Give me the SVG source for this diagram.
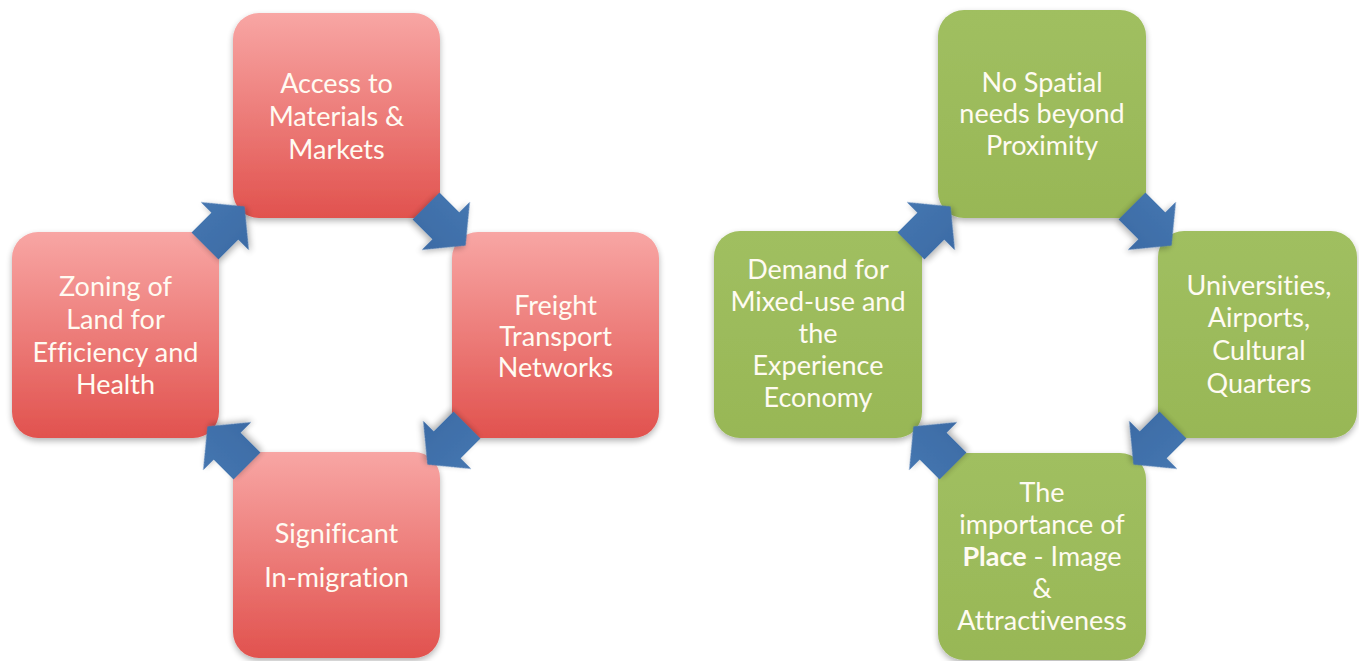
<svg xmlns="http://www.w3.org/2000/svg" width="1359" height="661" viewBox="0 0 1359 661">
  <defs>
    <linearGradient id="gRed" x1="0" y1="0" x2="0" y2="1">
      <stop offset="0" stop-color="#F8A6A4"/>
      <stop offset="1" stop-color="#E1524E"/>
    </linearGradient>
    <linearGradient id="gGreen" x1="0" y1="0" x2="0" y2="1">
      <stop offset="0" stop-color="#A0BF60"/>
      <stop offset="1" stop-color="#98B756"/>
    </linearGradient>
    <linearGradient id="gBlue" x1="0" y1="0" x2="0" y2="1">
      <stop offset="0" stop-color="#4576B0"/>
      <stop offset="1" stop-color="#3C6BA5"/>
    </linearGradient>
    <filter id="shadow" x="-10%" y="-10%" width="120%" height="125%">
      <feGaussianBlur in="SourceAlpha" stdDeviation="3"/>
      <feOffset dx="0" dy="3" result="b"/>
      <feComponentTransfer><feFuncA type="linear" slope="0.3"/></feComponentTransfer>
      <feMerge><feMergeNode/><feMergeNode in="SourceGraphic"/></feMerge>
    </filter>
    <path id="arrow" d="M0,-19 H28 V-34 L56,0 L28,34 V19 H0 Z"/>
  </defs>
  <style>
    .red { fill: url(#gRed); filter: url(#shadow); }
    .green { fill: url(#gGreen); filter: url(#shadow); }
    .arr { fill: url(#gBlue); filter: url(#shadow); }
    text { font-family: Lato, "Liberation Sans", sans-serif; font-size: 27px; fill: #FFFBF2; text-anchor: middle; font-variant-ligatures: none; }
    .b { font-weight: bold; }
  </style>

  <rect width="1359" height="661" fill="#FFFFFF"/>

  <!-- Left cycle -->
  <g id="n-access">
    <rect class="red" x="233" y="13" width="207" height="205" rx="26"/>
    <text x="336.5" y="93">Access to</text>
    <text x="336.5" y="126">Materials &amp;</text>
    <text x="336.5" y="159">Markets</text>
  </g>
  <g id="n-freight">
    <rect class="red" x="452" y="232" width="207" height="206" rx="26"/>
    <text x="555.5" y="315">Freight</text>
    <text x="555.5" y="346">Transport</text>
    <text x="555.5" y="377">Networks</text>
  </g>
  <g id="n-migration">
    <rect class="red" x="233" y="452" width="207" height="206" rx="26"/>
    <text x="336.5" y="543">Significant</text>
    <text x="336.5" y="587">In-migration</text>
  </g>
  <g id="n-zoning">
    <rect class="red" x="12" y="232" width="207" height="206" rx="26"/>
    <text x="115.5" y="296">Zoning of</text>
    <text x="115.5" y="329">Land for</text>
    <text x="115.5" y="362">Efficiency and</text>
    <text x="115.5" y="394">Health</text>
  </g>

  <!-- Right cycle -->
  <g id="n-nospatial">
    <rect class="green" x="938" y="10" width="208" height="208" rx="26"/>
    <text x="1042" y="92">No Spatial</text>
    <text x="1042" y="123">needs beyond</text>
    <text x="1042" y="155">Proximity</text>
  </g>
  <g id="n-universities">
    <rect class="green" x="1158" y="231" width="199" height="207" rx="26"/>
    <text x="1259" y="295">Universities,</text>
    <text x="1259" y="327">Airports,</text>
    <text x="1259" y="360">Cultural</text>
    <text x="1259" y="393">Quarters</text>
  </g>
  <g id="n-place">
    <rect class="green" x="938" y="453" width="208" height="207" rx="26"/>
    <text x="1042" y="502">The</text>
    <text x="1042" y="534">importance of</text>
    <text x="1042" y="566"><tspan class="b">Place</tspan> - Image</text>
    <text x="1042" y="598">&amp;</text>
    <text x="1042" y="630">Attractiveness</text>
  </g>
  <g id="n-demand">
    <rect class="green" x="714" y="231" width="208" height="207" rx="26"/>
    <text x="818" y="279">Demand for</text>
    <text x="818" y="311">Mixed-use and</text>
    <text x="818" y="343">the</text>
    <text x="818" y="375">Experience</text>
    <text x="818" y="407">Economy</text>
  </g>

  <!-- Connectors -->
  <g id="connectors">
    <use href="#arrow" class="arr" transform="translate(205,246) rotate(-45)"/>
    <use href="#arrow" class="arr" transform="translate(426,206) rotate(45)"/>
    <use href="#arrow" class="arr" transform="translate(467,425) rotate(135)"/>
    <use href="#arrow" class="arr" transform="translate(247,466) rotate(-135)"/>
    <use href="#arrow" class="arr" transform="translate(911,246) rotate(-45)"/>
    <use href="#arrow" class="arr" transform="translate(1132,206) rotate(45)"/>
    <use href="#arrow" class="arr" transform="translate(1173,425) rotate(135)"/>
    <use href="#arrow" class="arr" transform="translate(953,466) rotate(-135)"/>
  </g>
</svg>
